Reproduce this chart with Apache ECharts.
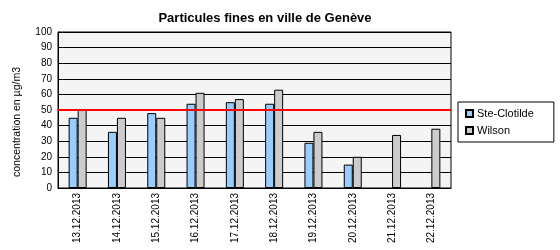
<!DOCTYPE html>
<html>
<head>
<meta charset="utf-8">
<script src="https://cdn.jsdelivr.net/npm/echarts@6/dist/echarts.min.js"></script>
<style>html,body{margin:0;padding:0;background:#fff}#c{width:560px;height:250px}</style>
</head>
<body>
<div id="c"></div>
<script>
var categories = ['13.12.2013','14.12.2013','15.12.2013','16.12.2013','17.12.2013','18.12.2013','19.12.2013','20.12.2013','21.12.2013','22.12.2013'];
var steClotilde = [45, 36, 48, 54, 55, 54, 29, 15, null, null];
var wilson = [50, 45, 45, 61, 57, 63, 36, 20, 34, 38];
var limitValue = 50;
var yTicks = [0,10,20,30,40,50,60,70,80,90,100];
var yAxisTitle = 'concentration en µg/m3';

var chart = echarts.init(document.getElementById('c'));
var font = 'Liberation Sans, Arial, sans-serif';
chart.setOption({
  animation: false,
  title: {
    text: 'Particules fines en ville de Genève',
    left: 260, top: 7, textAlign: 'center',
    textStyle: {fontFamily: font, fontSize: 13, fontWeight: 'bold', color: '#000'}
  },
  graphic: [{
    type: 'text', x: 17, y: 122, rotation: Math.PI / 2,
    style: {text: yAxisTitle, fontFamily: font, fontSize: 10.5, fill: '#000', align: 'center', verticalAlign: 'middle'}
  }],
  legend: {
    orient: 'vertical',
    left: 458, top: 102,
    width: 94,
    padding: [6, 20, 6, 7],
    borderColor: '#000', borderWidth: 1,
    itemWidth: 7, itemHeight: 7, itemGap: 6,
    icon: 'rect',
    textStyle: {fontFamily: font, fontSize: 11, color: '#000', padding: [0,0,0,-1]},
    data: ['Ste-Clotilde', 'Wilson']
  },
  grid: {left: 58, right: 109, top: 32, bottom: 62, show: true, backgroundColor: '#f4f4f4', borderColor: '#000', borderWidth: 1},
  xAxis: {
    type: 'category', data: categories,
    axisLine: {lineStyle: {color: '#000'}},
    axisTick: {show: false},
    axisLabel: {rotate: 90, fontFamily: font, fontSize: 10, color: '#000', margin: 5}
  },
  yAxis: {
    type: 'value', min: 0, max: 100, interval: 10,
    axisLine: {show: true, lineStyle: {color: '#000'}},
    axisTick: {show: false},
    axisLabel: {fontFamily: font, fontSize: 10, color: '#000', margin: 6,
      formatter: function(v){ return yTicks.indexOf(v) >= 0 ? String(v) : ''; }},
    splitLine: {lineStyle: {color: '#000', width: 1}}
  },
  series: [
    {name: 'Ste-Clotilde', type: 'bar', data: steClotilde, barWidth: 9, barGap: '0%',
     itemStyle: {color: '#99ccff', borderColor: '#000', borderWidth: 1},
     markLine: {symbol: 'none', silent: true, label: {show: false},
       lineStyle: {color: '#ff0000', width: 2, type: 'solid'},
       data: [{yAxis: limitValue}]}},
    {name: 'Wilson', type: 'bar', data: wilson, barWidth: 9, barGap: '0%',
     itemStyle: {color: '#cccccc', borderColor: '#000', borderWidth: 1}}
  ]
});
</script>
</body>
</html>
